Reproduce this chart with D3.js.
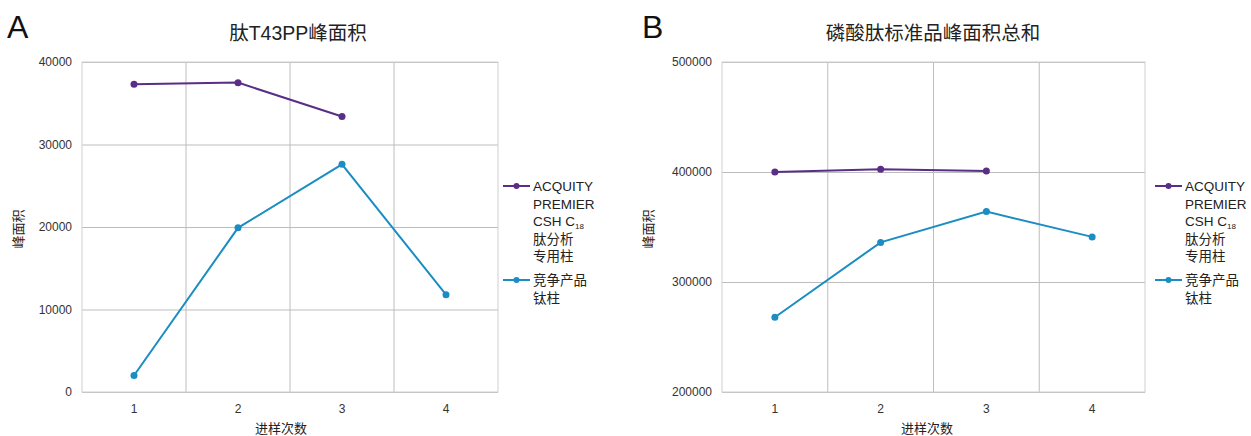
<!DOCTYPE html>
<html>
<head>
<meta charset="utf-8">
<script src="https://cdn.jsdelivr.net/npm/d3@7"></script>
<style>
  body { margin: 0; background: #fff; }
  svg text { font-family: "Liberation Sans", "Noto Sans CJK SC", sans-serif; }
</style>
</head>
<body>
<div id="chart"></div>
<script>
// Data
const injections = ['1', '2', '3', '4'];
const seriesNames = ['ACQUITY PREMIER CSH C18 肽分析专用柱', '竞争产品钛柱'];

// Panel A: peptide T43PP peak area
const acquityA = [37300, 37500, 33400];
const competitorA = [2000, 19900, 27600, 11800];
const ticksA = [0, 10000, 20000, 30000, 40000];

// Panel B: summed phosphopeptide standard peak area
const acquityB = [400000, 402500, 401000];
const competitorB = [268000, 336000, 364000, 341000];
const ticksB = [200000, 300000, 400000, 500000];

const colors = ['#5a2d86', '#1b8dc3'];

const svg = d3.select('#chart').append('svg')
  .attr('width', 1251)
  .attr('height', 436);

function drawPanel(cfg) {
  const x = d3.scaleBand().domain(injections).range([cfg.left, cfg.right]);
  const y = d3.scaleLinear().domain(cfg.domain).range([392, 62]);
  const g = svg.append('g');

  // grid: horizontal lines from the y axis, vertical at band edges
  g.append('g')
    .attr('transform', 'translate(' + cfg.left + ',0)')
    .call(d3.axisLeft(y).tickValues(cfg.ticks).tickSize(-(cfg.right - cfg.left)).tickFormat(d3.format('d')).tickPadding(10))
    .call(a => a.select('.domain').remove())
    .call(a => a.selectAll('line').attr('stroke', '#bdbdbd'))
    .call(a => a.selectAll('text').attr('fill', '#333').attr('font-size', 12));

  g.selectAll('.vgrid').data(injections.slice(1)).enter()
    .append('line')
    .attr('x1', d => x(d)).attr('x2', d => x(d))
    .attr('y1', 62).attr('y2', 392)
    .attr('stroke', '#bdbdbd');

  g.append('rect')
    .attr('x', cfg.left).attr('y', 62)
    .attr('width', cfg.right - cfg.left).attr('height', 330)
    .attr('fill', 'none').attr('stroke', '#cfcfcf');

  g.append('g')
    .attr('transform', 'translate(0,392)')
    .call(d3.axisBottom(x).tickSize(0).tickPadding(12))
    .call(a => a.select('.domain').remove())
    .call(a => a.selectAll('text').attr('fill', '#333').attr('font-size', 12));

  // lines and markers
  const line = d3.line().x((d, i) => x(injections[i]) + x.bandwidth() / 2).y(d => y(d));
  [cfg.acquity, cfg.competitor].forEach((vals, k) => {
    g.append('path')
      .datum(vals)
      .attr('fill', 'none')
      .attr('stroke', colors[k])
      .attr('stroke-width', 2)
      .attr('d', line);
    g.selectAll('.dot' + k).data(vals).enter()
      .append('circle')
      .attr('cx', (d, i) => x(injections[i]) + x.bandwidth() / 2)
      .attr('cy', d => y(d))
      .attr('r', 3.5)
      .attr('fill', colors[k]);
  });

  // panel letter and title
  g.append('text').text(cfg.letter)
    .attr('x', cfg.letterX).attr('y', 38)
    .attr('font-size', 32).attr('fill', '#111');
  g.append('text').text(cfg.title)
    .attr('x', cfg.titleX).attr('y', 40)
    .attr('text-anchor', 'middle')
    .attr('font-size', 19.5).attr('fill', '#222');

  // axis titles
  g.append('text').text('进样次数')
    .attr('x', cfg.xLabelX).attr('y', 433)
    .attr('text-anchor', 'middle')
    .attr('font-size', 13).attr('fill', '#222');
  g.append('text').text('峰面积')
    .attr('transform', 'translate(' + (cfg.yLabelX + 5) + ',229) rotate(-90)')
    .attr('text-anchor', 'middle')
    .attr('font-size', 13).attr('fill', '#222');

  // legend
  const legendRows = [
    [['ACQUITY'], ['PREMIER'], ['CSH C', '18'], ['肽分析'], ['专用柱']],
    [['竞争产品'], ['钛柱']]
  ];
  const legendY = [186, 280];
  legendRows.forEach((rows, k) => {
    const lg = g.append('g').attr('transform', 'translate(' + cfg.legendX + ',' + legendY[k] + ')');
    lg.append('line').attr('x1', 0).attr('x2', 27).attr('y1', 0).attr('y2', 0)
      .attr('stroke', colors[k]).attr('stroke-width', 2);
    lg.append('circle').attr('cx', 13.5).attr('cy', 0).attr('r', 3).attr('fill', colors[k]);
    rows.forEach((parts, i) => {
      const t = lg.append('text')
        .attr('x', 30).attr('y', 5 + i * 17.5)
        .attr('font-size', 13.5).attr('fill', '#222')
        .text(parts[0]);
      if (parts[1]) {
        t.append('tspan').attr('font-size', 8).attr('dy', 3).text(parts[1]);
      }
    });
  });
}

drawPanel({
  left: 82, right: 498, domain: [0, 40000], ticks: ticksA,
  acquity: acquityA, competitor: competitorA,
  letter: 'A', letterX: 7, title: '肽T43PP峰面积', titleX: 298,
  xLabelX: 281, yLabelX: 18, legendX: 503
});

drawPanel({
  left: 722, right: 1145, domain: [200000, 500000], ticks: ticksB,
  acquity: acquityB, competitor: competitorB,
  letter: 'B', letterX: 642, title: '磷酸肽标准品峰面积总和', titleX: 933,
  xLabelX: 927, yLabelX: 648, legendX: 1155
});
</script>
</body>
</html>
